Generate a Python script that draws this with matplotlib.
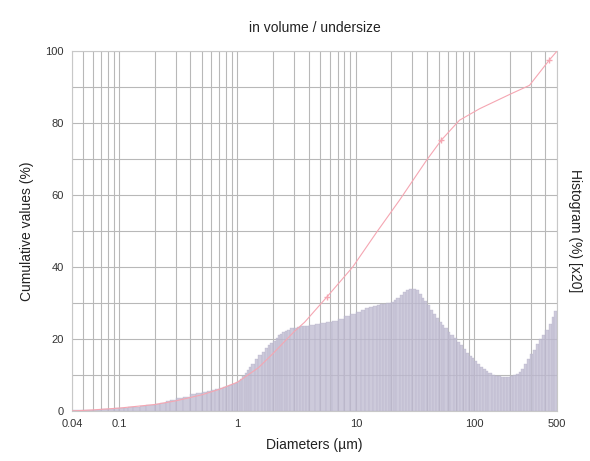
"""Particle size distribution: cumulative curve over a channel histogram."""

import matplotlib

matplotlib.use("Agg")
import matplotlib.pyplot as plt
import numpy as np
from matplotlib.ticker import FixedLocator, LogLocator, NullFormatter

plt.rcParams["font.family"] = ["Liberation Sans", "DejaVu Sans"]

# channel lower edges (µm) and histogram value of each channel (% x20)
channel_edges = [
    0.04, 0.05, 0.06, 0.07, 0.08, 0.09, 0.1, 0.11, 0.12, 0.13,
    0.15, 0.17, 0.2, 0.22, 0.25, 0.27, 0.3, 0.35, 0.4, 0.45,
    0.5, 0.55, 0.6, 0.65, 0.7, 0.75, 0.8, 0.85, 0.9, 0.95,
    1.0, 1.05, 1.1, 1.15, 1.2, 1.25, 1.3, 1.4, 1.5, 1.6,
    1.7, 1.8, 1.9, 2.0, 2.1, 2.2, 2.3, 2.4, 2.5, 2.6,
    2.8, 3.0, 3.2, 3.4, 3.6, 3.8, 4.0, 4.5, 5.0, 5.6,
    6.3, 7.1, 8.0, 9.0, 10, 11, 12, 13, 14, 15,
    16, 17, 18, 19, 20, 21, 22, 23.5, 25, 26.5,
    28, 30, 32, 34, 36, 38, 40, 42.5, 45, 47.5,
    50, 53, 56, 59.5, 63, 67, 71, 75.5, 80, 85,
    90, 95, 100, 106, 112, 118, 125, 132, 140, 150,
    160, 170, 180, 190, 200, 212, 224, 237, 250, 265,
    280, 297, 315, 335, 355, 375, 400, 425, 450, 475,
]
histogram = [
    0.2, 0.3, 0.4, 0.5, 0.6, 0.7, 0.8, 0.9, 1.0, 1.1,
    1.3, 1.6, 2.0, 2.3, 2.8, 3.1, 3.5, 4.0, 4.6, 5.0,
    5.3, 5.6, 5.9, 6.2, 6.5, 6.8, 7.0, 7.3, 7.6, 7.9,
    8.3, 9.0, 9.8, 10.6, 11.5, 12.2, 13.0, 14.5, 15.5, 16.5,
    17.4, 18.2, 18.9, 19.5, 20.3, 21.0, 21.5, 22.0, 22.3, 22.6,
    23.0, 23.2, 23.4, 23.5, 23.6, 23.7, 23.8, 24.1, 24.4, 24.7,
    25.0, 25.5, 26.3, 27.0, 27.6, 28.0, 28.5, 28.8, 29.1, 29.4,
    29.6, 29.8, 30.0, 30.1, 30.3, 30.8, 31.5, 32.2, 33.0, 33.6,
    34.0, 34.0, 33.6, 32.6, 31.5, 30.5, 29.5, 28.2, 27.0, 25.9,
    24.8, 23.9, 23.0, 22.0, 21.0, 20.2, 19.3, 18.2, 17.2, 16.2,
    15.3, 14.6, 13.9, 13.0, 12.2, 11.6, 11.0, 10.5, 10.1, 9.8,
    9.6, 9.5, 9.5, 9.5, 9.6, 9.9, 10.2, 10.9, 11.8, 13.1,
    14.5, 15.8, 17.0, 18.5, 20.0, 21.2, 22.5, 24.2, 26.0, 27.8,
]
last_edge = 500

# cumulative undersize curve (%)
cum_diameters = [
    0.04, 0.06, 0.1, 0.2, 0.3, 0.5, 0.7, 1.0, 1.5, 2.0, 3.0, 3.7, 5.7,
    9.4, 15, 23.4, 39.6, 52.8, 75, 111, 200, 293, 430, 500,
]
cumulative = [
    0.0, 0.3, 0.8, 1.8, 2.8, 4.5, 6.0, 8.0, 12.0, 16.0, 22.0, 24.7, 31.7,
    40.0, 49.7, 58.6, 69.7, 75.3, 80.8, 84.0, 88.0, 90.5, 97.5, 100.0,
]

x_ticks = [0.04, 0.1, 1, 10, 100, 500]
x_tick_labels = ["0.04", "0.1", "1", "10", "100", "500"]
y_ticks = [0, 20, 40, 60, 80, 100]

fig = plt.figure(figsize=(5.9, 4.61), dpi=100)
ax = fig.add_axes([0.122, 0.1085, 0.822, 0.7805])

edges = np.array(channel_edges + [last_edge])
ax.bar(
    edges[:-1], histogram, width=np.diff(edges), align="edge",
    color="#bfbbd1", edgecolor="#b5b1c8", linewidth=0.3, alpha=0.78, zorder=2,
)
ax.plot(
    cum_diameters, cumulative, color="#f5a6b2", linewidth=0.8,
    marker="+", markersize=5, markevery=[12, 17, 22], zorder=3,
)

ax.set_xscale("log")
ax.set_xlim(0.04, 500)
ax.set_ylim(0, 100)

ax.xaxis.set_major_locator(FixedLocator(x_ticks))
ax.set_xticklabels(x_tick_labels)
ax.xaxis.set_minor_locator(LogLocator(base=10, subs=np.arange(2, 10)))
ax.xaxis.set_minor_formatter(NullFormatter())
ax.set_yticks(y_ticks)
ax.yaxis.set_minor_locator(FixedLocator([10, 30, 50, 70, 90]))

ax.grid(True, which="both", color="#b8b8b8", linewidth=0.8, zorder=1)
ax.set_axisbelow(True)
ax.tick_params(which="both", length=0, labelsize=8, colors="#333333", pad=6)

for side in ("top", "bottom", "left", "right"):
    ax.spines[side].set_color("#c8c8c8")
    ax.spines[side].set_linewidth(0.8)

ax.set_xlabel("Diameters (µm)", fontsize=10, color="#222222", labelpad=6)
ax.set_ylabel("Cumulative values (%)", fontsize=10, color="#222222", labelpad=8)
ax.set_title("in volume / undersize", fontsize=10, color="#222222", pad=14)

fig.text(
    0.975, 0.5, "Histogram (%) [x20]", rotation=270, fontsize=10,
    color="#222222", ha="center", va="center",
)

fig.savefig("out.png", dpi=100)
